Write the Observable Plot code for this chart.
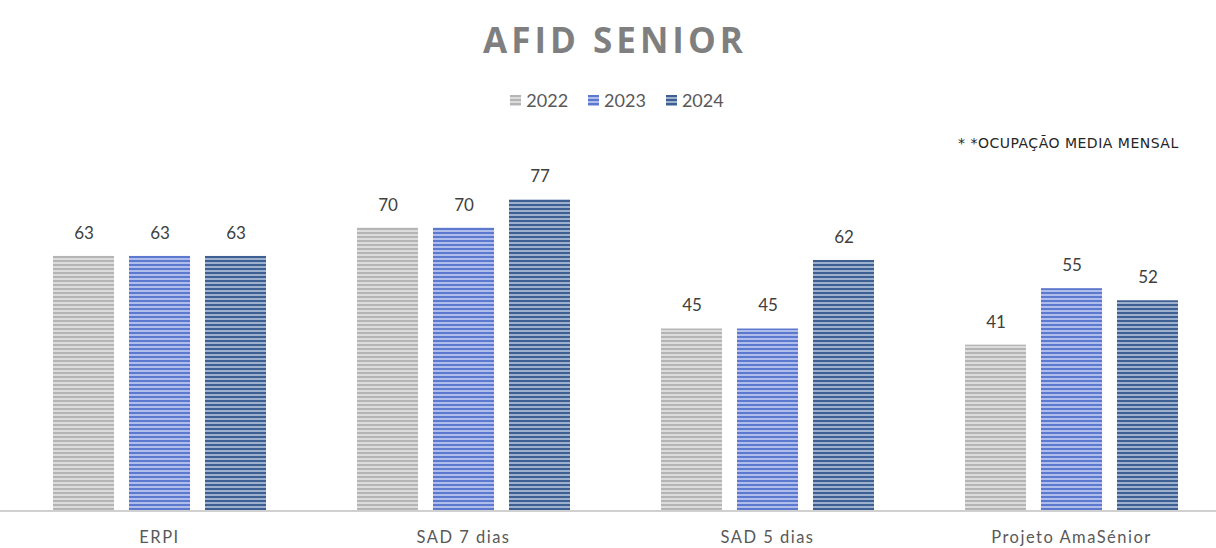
<!DOCTYPE html>
<html>
<head>
<meta charset="utf-8">
<script src="https://cdn.jsdelivr.net/npm/d3@7"></script>
<script src="https://cdn.jsdelivr.net/npm/@observablehq/plot@0.6"></script>
<style>
  html, body { margin: 0; padding: 0; background: #fff; }
  #wrap { position: relative; width: 1216px; height: 548px; overflow: hidden; font-family: Lato, "Open Sans", sans-serif; }
  #title { position: absolute; top: 16px; left: 7px; width: 1216px; text-align: center; font-size: 35px; font-weight: 700; color: #7f7f7f; letter-spacing: 4px; font-family: "Open Sans", Lato, sans-serif; }
  #legend { position: absolute; top: 89px; left: 9px; width: 1216px; display: flex; justify-content: center; gap: 20px; font-size: 18px; color: #595959; z-index: 2; }
  #legend span.item { display: inline-flex; align-items: center; gap: 5px; }
  #legend svg { display: block; }
  #note { position: absolute; top: 135px; left: 958px; font-size: 14px; letter-spacing: 0.5px; color: #262626; font-family: "DejaVu Sans", sans-serif; z-index: 2; }
  #chart { position: absolute; top: 0; left: 0; }
  #chart g[aria-label="fx-axis tick label"] text { letter-spacing: 1.5px; }
</style>
</head>
<body>
<svg width="0" height="0" style="position:absolute">
  <defs>
    <pattern id="p2022" width="8" height="4" patternUnits="userSpaceOnUse">
      <rect width="8" height="4" fill="#dcdcdc"/>
      <rect width="8" height="2" fill="#b5b5b5"/>
    </pattern>
    <pattern id="p2023" width="8" height="4" patternUnits="userSpaceOnUse">
      <rect width="8" height="4" fill="#aebdea"/>
      <rect width="8" height="2" fill="#5d79cf"/>
    </pattern>
    <pattern id="p2024" width="8" height="4" patternUnits="userSpaceOnUse">
      <rect width="8" height="4" fill="#9db1cf"/>
      <rect width="8" height="2" fill="#3e5f92"/>
    </pattern>
  </defs>
</svg>
<div id="wrap">
  <div id="chart"></div>
  <div id="title">AFID SENIOR</div>
  <div id="legend"></div>
  <div id="note">* *OCUPAÇÃO MEDIA MENSAL</div>
</div>
<script>
const categories = ["ERPI", "SAD 7 dias", "SAD 5 dias", "Projeto AmaSénior"];
const years = ["2022", "2023", "2024"];
const values2022 = [63, 70, 45, 41];
const values2023 = [63, 70, 45, 55];
const values2024 = [63, 77, 62, 52];
const fills = ["url(#p2022)", "url(#p2023)", "url(#p2024)"];

const series = [values2022, values2023, values2024];
const data = [];
categories.forEach((c, i) => {
  years.forEach((y, j) => data.push({category: c, year: y, value: series[j][i]}));
});

const W = 1216;
const chart = Plot.plot({
  width: W,
  height: 548,
  marginTop: 147,
  marginBottom: 38,
  marginLeft: 0,
  marginRight: 0,
  style: {fontFamily: "Lato, 'Open Sans', sans-serif", background: "transparent"},
  fx: {domain: categories, range: [7, 1223], paddingInner: 0.296, paddingOuter: 0.148, label: null},
  x: {domain: years, paddingInner: 0.2, paddingOuter: 0, axis: null},
  y: {domain: [0, 90], axis: null},
  color: {domain: years, range: fills},
  marks: [
    Plot.barY(data, {fx: "category", x: "year", y: "value", fill: "year"}),
    Plot.text(data, {fx: "category", x: "year", y: "value", text: d => String(d.value), dy: -23, fontSize: 17, fill: "#404040"}),
    Plot.axisFx({anchor: "bottom", tickSize: 0, tickPadding: 21, fontSize: 16.5, fill: "#595959", label: null})
  ]
});
// baseline across the full width, positioned through the y scale
const y0 = chart.scale("y").apply(0);
d3.select(chart).append("line")
  .attr("x1", 0).attr("x2", W)
  .attr("y1", y0 + 1).attr("y2", y0 + 1)
  .attr("stroke", "#d0d0d0").attr("stroke-width", 2);
document.getElementById("chart").appendChild(chart);

const legend = document.getElementById("legend");
years.forEach((y, j) => {
  const item = document.createElement("span");
  item.className = "item";
  item.innerHTML = `<svg width="11" height="11"><rect width="11" height="11" fill="${fills[j]}"/></svg><span>${y}</span>`;
  legend.appendChild(item);
});
</script>
</body>
</html>
